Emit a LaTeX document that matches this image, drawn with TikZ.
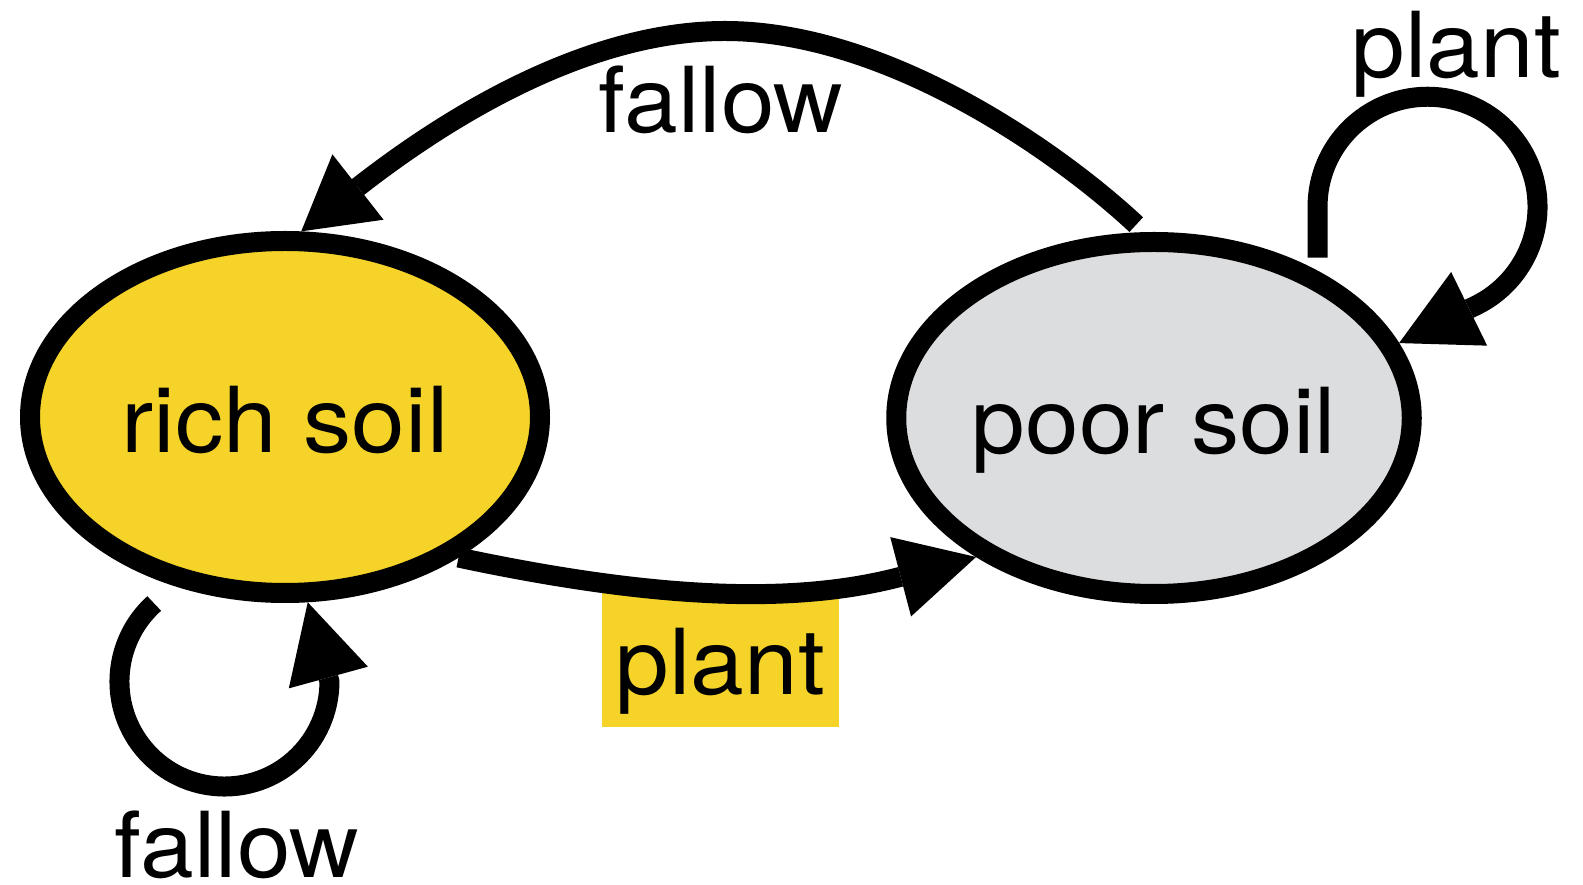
\documentclass[tikz,border=0pt]{standalone}
\usepackage{fontspec}
\newfontfamily\lab[FakeStretch=1.06]{TeX Gyre Heros}
\usetikzlibrary{arrows.meta,shapes.geometric,calc}
\definecolor{richyellow}{RGB}{245,211,41}
\definecolor{poorgray}{RGB}{220,221,223}
\begin{document}
\begin{tikzpicture}[x=1pt,y=1pt,
  labfont/.style={font=\lab\fontsize{91}{100}\selectfont},
  state/.style={ellipse, draw=black, line width=20pt, minimum width=510pt, minimum height=352pt, inner sep=0pt, labfont, text height=72pt, text depth=0pt},
  trans/.style={line width=20pt, -{Triangle[length=78pt,width=82pt,line width=0pt]}},
  lbl/.style={inner sep=0pt, anchor=base, labfont}]
\useasboundingbox (0,0) rectangle (1583,884);
\node[state, fill=richyellow] (rich) at (285,467) {rich soil};
\node[state, fill=poorgray] (poor) at (1154,466) {poor soil};
\node[inner sep=0pt, fill=richyellow, minimum width=237pt, minimum height=134pt, labfont, text height=72pt, text depth=2pt] (plantlbl) at (720.5,224) {plant};
\coordinate (fallowpeak) at (725,853);
\coordinate (fallowbase) at ($(rich.85)+(38:72)$);
\coordinate (richloopstart) at (154.2,280.5);
% fallow: poor -> rich
\draw[trans, -{Triangle[length=72pt,width=83pt,line width=0pt]}, shorten <=11pt]
  (poor.93) .. controls +(137:121) and +(0:160) .. (fallowpeak)
  .. controls +(180:130) and +(38:130) .. (fallowbase) -- (rich.85);
% plant: rich -> poor
\draw[trans] (rich.-39) .. controls +(-12:218) and +(194.7:178) .. (poor.218.5);
% fallow: rich -> rich
\draw[trans] (richloopstart) arc[start angle=132, end angle=360, radius=105] -- (rich.-83);
% plant: poor -> poor
\draw[trans, shorten <=13pt] (poor.42) -- ++(0,64) arc[start angle=180, end angle=-65, radius=110] -- (poor.17.5);
\node[lbl] (fallowtop) at (721,751) {fallow};
\node[lbl] (plantloop) at (1456.5,806) {plant};
\node[lbl] (fallowloop) at (237,7) {fallow};
\end{tikzpicture}
\end{document}
